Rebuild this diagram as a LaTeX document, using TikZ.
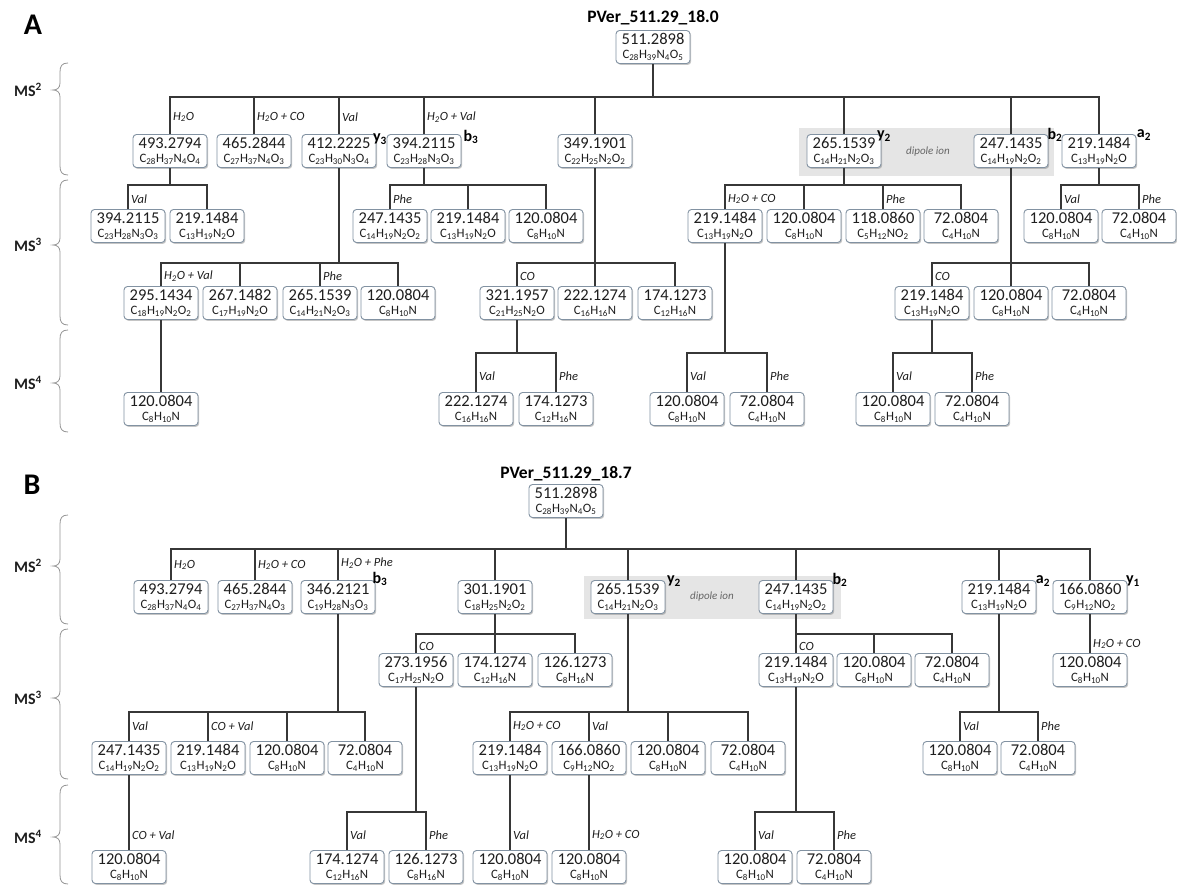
\documentclass[tikz,border=0pt]{standalone}
\usepackage{fontspec}
\setmainfont{Carlito}
\usetikzlibrary{shadows}
\definecolor{boxc}{RGB}{130,146,162}
\definecolor{lnc}{RGB}{55,55,55}
\definecolor{txt}{RGB}{30,30,30}
\definecolor{bandc}{RGB}{229,229,229}
\definecolor{brc}{RGB}{150,150,150}
\newcommand\ssub[1]{\textsubscript{#1}}
\newcommand\nm{\fontsize{16.5}{17}\selectfont}
\newcommand\fm{\fontsize{12.8}{14}\selectfont}
\newcommand\bx[2]{{\nm #1}\\[0pt]#2}
\newcommand\mA{\bx{219.1484}{C\ssub{13}H\ssub{19}N\ssub{2}O}}
\newcommand\mB{\bx{120.0804}{C\ssub{8}H\ssub{10}N}}
\newcommand\mC{\bx{72.0804}{C\ssub{4}H\ssub{10}N}}
\newcommand\mD{\bx{247.1435}{C\ssub{14}H\ssub{19}N\ssub{2}O\ssub{2}}}
\newcommand\mE{\bx{265.1539}{C\ssub{14}H\ssub{21}N\ssub{2}O\ssub{3}}}
\newcommand\wat{H\ssub{2}O}
\newcommand\bus[4]{\draw[ln] (#1.south) -- (#1.south |- #4);
  \draw[ln] (#2.north) -- (#2.north |- #4) -- (#3.north |- #4) -- (#3.north);}
\newcommand\drop[2]{\draw[ln] (#1.north) -- (#1.north |- #2);}
\newcommand\lnk[2]{\draw[ln] (#1.south) -- (#2.north);}
\newcommand\brce[4]{\draw[brcs] (#1+12,#2) .. controls (#1+6,#2) and (#1+4,#2+3) .. (#1+4,#2+9) -- (#1+4,#3-7) .. controls (#1+4,#3-2) and (#1+1,#3) .. (#1-3,#3) .. controls (#1+1,#3) and (#1+4,#3+2) .. (#1+4,#3+7) -- (#1+4,#4-9) .. controls (#1+4,#4-3) and (#1+6,#4) .. (#1+12,#4);}
\begin{document}
\begin{tikzpicture}[x=1pt,y=-1pt,
  box/.style={draw=boxc, line width=0.9pt, rounded corners=3.5pt, fill=white, minimum width=74pt, minimum height=33pt, inner sep=1.2pt, align=center, font=\fm, text=txt, drop shadow={shadow xshift=1.2pt, shadow yshift=-1.4pt, opacity=0.45, fill=black!50}},
  ln/.style={draw=lnc, line width=1.05pt},
  lab/.style={anchor=west, font=\itshape\fontsize{12.5}{13}\selectfont, text=txt, inner sep=0pt},
  tag/.style={font=\bfseries\fontsize{16}{16}\selectfont, text=black, inner sep=0pt},
  hdr/.style={font=\bfseries\fontsize{17.5}{18}\selectfont, text=black, inner sep=0pt},
  pnl/.style={font=\bfseries\fontsize{30}{30}\selectfont, text=black, inner sep=0pt},
  msl/.style={font=\bfseries\fontsize{16}{16}\selectfont, text=txt, inner sep=0pt},
  dip/.style={font=\itshape\fontsize{11}{11}\selectfont, text=black!60, inner sep=0pt},
  brcs/.style={draw=brc, line width=0.8pt},
  band/.style={fill=bandc}]
\useasboundingbox (0,0) rectangle (1177,889);
\fill[white] (0,0) rectangle (1177,889);
% bus levels
\coordinate (LA0) at (0,97);  \coordinate (LA1) at (0,185);
\coordinate (LA2) at (0,263); \coordinate (LA3) at (0,353);
\coordinate (LB0) at (0,549); \coordinate (LB1) at (0,634);
\coordinate (LB2) at (0,712); \coordinate (LB3) at (0,812);
% bands
\fill[band] (799,128) rectangle (1054,176);
\fill[band] (584,576) rectangle (841,619);
% panel labels and MS braces
\node[pnl] (PA) at (33,25) {A};
\node[pnl] (PB) at (32,485) {B};
\node[msl] (MA2) at (28,90) {MS\textsuperscript{2}};
\node[msl] (MA3) at (28,245) {MS\textsuperscript{3}};
\node[msl] (MA4) at (28,383) {MS\textsuperscript{4}};
\node[msl] (MB2) at (28,566) {MS\textsuperscript{2}};
\node[msl] (MB3) at (28,698) {MS\textsuperscript{3}};
\node[msl] (MB4) at (28,837) {MS\textsuperscript{4}};
\brce{56}{63}{90}{175}
\brce{56}{180}{245}{325}
\brce{56}{330}{383}{432}
\brce{56}{515}{566}{624}
\brce{56}{629}{698}{779}
\brce{56}{785}{837}{884}
% ================= PANEL A =================
\node[hdr] (tA) at (653,18) {PVer\_511.29\_18.0};
\node[box] (RA) at (653,47) {\bx{511.2898}{C\ssub{28}H\ssub{39}N\ssub{4}O\ssub{5}}};
\node[box] (A1) at (170,151) {\bx{493.2794}{C\ssub{28}H\ssub{37}N\ssub{4}O\ssub{4}}};
\node[box] (A2) at (254,151) {\bx{465.2844}{C\ssub{27}H\ssub{37}N\ssub{4}O\ssub{3}}};
\node[box] (A3) at (339,151) {\bx{412.2225}{C\ssub{23}H\ssub{30}N\ssub{3}O\ssub{4}}};
\node[box] (A4) at (424,151) {\bx{394.2115}{C\ssub{23}H\ssub{28}N\ssub{3}O\ssub{3}}};
\node[box] (A5) at (595,151) {\bx{349.1901}{C\ssub{22}H\ssub{25}N\ssub{2}O\ssub{2}}};
\node[box] (A6) at (844,151) {\mE};
\node[box] (A7) at (1011,151) {\mD};
\node[box] (A8) at (1099,151) {\mA};
\node[box] (A11) at (128,226) {\bx{394.2115}{C\ssub{23}H\ssub{28}N\ssub{3}O\ssub{3}}};
\node[box] (A12) at (207,226) {\mA};
\node[box] (A41) at (390,226) {\mD};
\node[box] (A42) at (468,226) {\mA};
\node[box] (A43) at (546,226) {\mB};
\node[box] (A61) at (725,226) {\mA};
\node[box] (A62) at (804,226) {\mB};
\node[box] (A63) at (883,226) {\bx{118.0860}{C\ssub{5}H\ssub{12}NO\ssub{2}}};
\node[box] (A64) at (961,226) {\mC};
\node[box] (A81) at (1061,226) {\mB};
\node[box] (A82) at (1139,226) {\mC};
\node[box] (A31) at (161,303) {\bx{295.1434}{C\ssub{18}H\ssub{19}N\ssub{2}O\ssub{2}}};
\node[box] (A32) at (240,303) {\bx{267.1482}{C\ssub{17}H\ssub{19}N\ssub{2}O}};
\node[box] (A33) at (320,303) {\mE};
\node[box] (A34) at (398,303) {\mB};
\node[box] (A51) at (517,303) {\bx{321.1957}{C\ssub{21}H\ssub{25}N\ssub{2}O}};
\node[box] (A52) at (595,303) {\bx{222.1274}{C\ssub{16}H\ssub{16}N}};
\node[box] (A53) at (675,303) {\bx{174.1273}{C\ssub{12}H\ssub{16}N}};
\node[box] (A71) at (932,303) {\mA};
\node[box] (A72) at (1011,303) {\mB};
\node[box] (A73) at (1089,303) {\mC};
\node[box] (A311) at (161,409) {\mB};
\node[box] (A511) at (476,409) {\bx{222.1274}{C\ssub{16}H\ssub{16}N}};
\node[box] (A512) at (556,409) {\bx{174.1273}{C\ssub{12}H\ssub{16}N}};
\node[box] (A611) at (687,409) {\mB};
\node[box] (A612) at (767,409) {\mC};
\node[box] (A711) at (893,409) {\mB};
\node[box] (A712) at (972,409) {\mC};
% connectors A
\draw[ln] (RA.south) -- (RA.south |- LA0);
\draw[ln] (A1.north) -- (A1.north |- LA0) -- (A8.north |- LA0) -- (A8.north);
\drop{A2}{LA0}\drop{A3}{LA0}\drop{A4}{LA0}\drop{A5}{LA0}\drop{A6}{LA0}\drop{A7}{LA0}
\bus{A1}{A11}{A12}{LA1}
\bus{A4}{A41}{A43}{LA1}\drop{A42}{LA1}
\bus{A6}{A61}{A64}{LA1}\drop{A62}{LA1}\drop{A63}{LA1}
\bus{A8}{A81}{A82}{LA1}
\bus{A3}{A31}{A34}{LA2}\drop{A32}{LA2}\drop{A33}{LA2}
\bus{A5}{A51}{A53}{LA2}\drop{A52}{LA2}
\bus{A7}{A71}{A73}{LA2}\drop{A72}{LA2}
\lnk{A31}{A311}
\bus{A51}{A511}{A512}{LA3}
\bus{A61}{A611}{A612}{LA3}
\bus{A71}{A711}{A712}{LA3}
% labels A
\node[lab] (lA1) at (173,117) {\wat};
\node[lab] (lA2) at (257,117) {\wat{} + CO};
\node[lab] (lA3) at (342,117) {Val};
\node[lab] (lA4) at (427,117) {\wat{} + Val};
\node[lab] (lA11) at (131,199) {Val};
\node[lab] (lA41) at (393,199) {Phe};
\node[lab] (lA61) at (728,199) {\wat{} + CO};
\node[lab] (lA63) at (886,199) {Phe};
\node[lab] (lA81) at (1064,199) {Val};
\node[lab] (lA82) at (1142,199) {Phe};
\node[lab] (lA31) at (164,276) {\wat{} + Val};
\node[lab] (lA33) at (323,276) {Phe};
\node[lab] (lA51) at (520,276) {CO};
\node[lab] (lA71) at (935,276) {CO};
\node[lab] (lA511) at (479,376) {Val};
\node[lab] (lA512) at (559,376) {Phe};
\node[lab] (lA611) at (690,376) {Val};
\node[lab] (lA612) at (770,376) {Phe};
\node[lab] (lA711) at (896,376) {Val};
\node[lab] (lA712) at (975,376) {Phe};
\node[dip] (dA) at (928,152) {dipole ion};
\node[tag] (gA3) at (380,139) {y\ssub{3}};
\node[tag] (gA4) at (471,137) {b\ssub{3}};
\node[tag] (gA6) at (884,136) {y\ssub{2}};
\node[tag] (gA7) at (1055,135) {b\ssub{2}};
\node[tag] (gA8) at (1144,135) {a\ssub{2}};
% ================= PANEL B =================
\node[hdr] (tB) at (566,474) {PVer\_511.29\_18.7};
\node[box] (RB) at (566,501) {\bx{511.2898}{C\ssub{28}H\ssub{39}N\ssub{4}O\ssub{5}}};
\node[box] (B1) at (171,597) {\bx{493.2794}{C\ssub{28}H\ssub{37}N\ssub{4}O\ssub{4}}};
\node[box] (B2) at (255,597) {\bx{465.2844}{C\ssub{27}H\ssub{37}N\ssub{4}O\ssub{3}}};
\node[box] (B3) at (338,597) {\bx{346.2121}{C\ssub{19}H\ssub{28}N\ssub{3}O\ssub{3}}};
\node[box] (B4) at (495,597) {\bx{301.1901}{C\ssub{18}H\ssub{25}N\ssub{2}O\ssub{2}}};
\node[box] (B5) at (628,597) {\mE};
\node[box] (B6) at (796,597) {\mD};
\node[box] (B7) at (999,597) {\mA};
\node[box] (B8) at (1090,597) {\bx{166.0860}{C\ssub{9}H\ssub{12}NO\ssub{2}}};
\node[box] (B41) at (416,670) {\bx{273.1956}{C\ssub{17}H\ssub{25}N\ssub{2}O}};
\node[box] (B42) at (495,670) {\bx{174.1274}{C\ssub{12}H\ssub{16}N}};
\node[box] (B43) at (575,670) {\bx{126.1273}{C\ssub{8}H\ssub{16}N}};
\node[box] (B61) at (796,670) {\mA};
\node[box] (B62) at (874,670) {\mB};
\node[box] (B63) at (952,670) {\mC};
\node[box] (B81) at (1090,670) {\mB};
\node[box] (B31) at (129,758) {\mD};
\node[box] (B32) at (208,758) {\mA};
\node[box] (B33) at (287,758) {\mB};
\node[box] (B34) at (365,758) {\mC};
\node[box] (B51) at (510,758) {\mA};
\node[box] (B52) at (589,758) {\bx{166.0860}{C\ssub{9}H\ssub{12}NO\ssub{2}}};
\node[box] (B53) at (668,758) {\mB};
\node[box] (B54) at (748,758) {\mC};
\node[box] (B71) at (960,758) {\mB};
\node[box] (B72) at (1038,758) {\mC};
\node[box] (B311) at (129,867) {\mB};
\node[box] (B411) at (347,867) {\bx{174.1274}{C\ssub{12}H\ssub{16}N}};
\node[box] (B412) at (426,867) {\bx{126.1273}{C\ssub{8}H\ssub{16}N}};
\node[box] (B511) at (510,867) {\mB};
\node[box] (B521) at (589,867) {\mB};
\node[box] (B611) at (755,867) {\mB};
\node[box] (B612) at (834,867) {\mC};
% connectors B
\draw[ln] (RB.south) -- (RB.south |- LB0);
\draw[ln] (B1.north) -- (B1.north |- LB0) -- (B8.north |- LB0) -- (B8.north);
\drop{B2}{LB0}\drop{B3}{LB0}\drop{B4}{LB0}\drop{B5}{LB0}\drop{B6}{LB0}\drop{B7}{LB0}
\bus{B4}{B41}{B43}{LB1}\drop{B42}{LB1}
\bus{B6}{B61}{B63}{LB1}\drop{B62}{LB1}
\lnk{B8}{B81}
\bus{B3}{B31}{B34}{LB2}\drop{B32}{LB2}\drop{B33}{LB2}
\bus{B5}{B51}{B54}{LB2}\drop{B52}{LB2}\drop{B53}{LB2}
\bus{B7}{B71}{B72}{LB2}
\lnk{B31}{B311}
\bus{B41}{B411}{B412}{LB3}
\lnk{B51}{B511}
\lnk{B52}{B521}
\bus{B61}{B611}{B612}{LB3}
% labels B
\node[lab] (lB1) at (174,565) {\wat};
\node[lab] (lB2) at (258,565) {\wat{} + CO};
\node[lab] (lB3) at (341,563) {\wat{} + Phe};
\node[lab] (lB41) at (419,646) {CO};
\node[lab] (lB61) at (799,646) {CO};
\node[lab] (lB81) at (1093,644) {\wat{} + CO};
\node[lab] (lB31) at (132,726) {Val};
\node[lab] (lB32) at (211,726) {CO + Val};
\node[lab] (lB51) at (513,726) {\wat{} + CO};
\node[lab] (lB52) at (592,726) {Val};
\node[lab] (lB71) at (963,726) {Val};
\node[lab] (lB72) at (1041,726) {Phe};
\node[lab] (lB311) at (132,835) {CO + Val};
\node[lab] (lB411) at (350,835) {Val};
\node[lab] (lB412) at (429,835) {Phe};
\node[lab] (lB511) at (513,835) {Val};
\node[lab] (lB521) at (592,835) {\wat{} + CO};
\node[lab] (lB611) at (758,835) {Val};
\node[lab] (lB612) at (837,835) {Phe};
\node[dip] (dB) at (712,597) {dipole ion};
\node[tag] (gB3) at (380,579) {b\ssub{3}};
\node[tag] (gB5) at (674,581) {y\ssub{2}};
\node[tag] (gB6) at (840,580) {b\ssub{2}};
\node[tag] (gB7) at (1043,581) {a\ssub{2}};
\node[tag] (gB8) at (1133,581) {y\ssub{1}};
\end{tikzpicture}
\end{document}
